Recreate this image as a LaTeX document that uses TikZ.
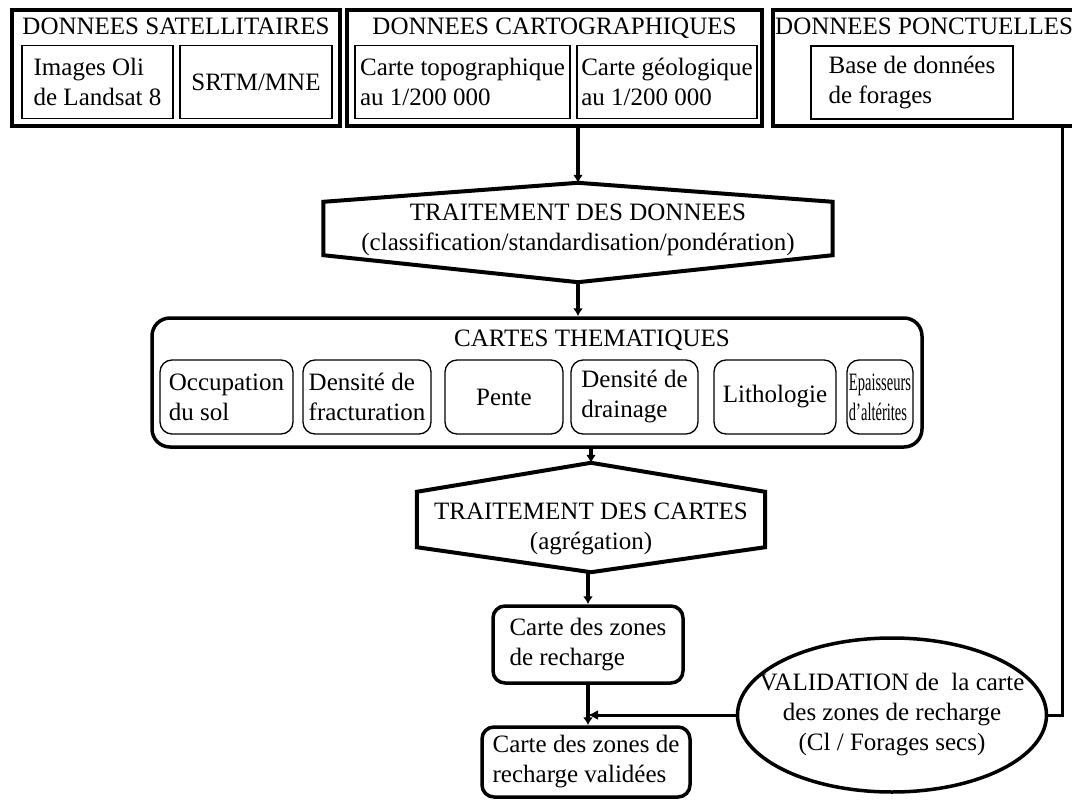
\documentclass[tikz,border=0pt]{standalone}
\usepackage{fontspec}
\setmainfont{Liberation Serif}
\usetikzlibrary{shapes.geometric,arrows.meta}

\begin{document}
\begin{tikzpicture}[x=1pt, y=-1pt,
  every node/.style = {font=\fontsize{25}{30}\selectfont, align=left, inner sep=2pt},
  outbox/.style = {draw, line width=4.5pt},
  inbox/.style = {draw, line width=1.3pt, minimum height=73pt},
  thembox/.style = {draw, line width=1.3pt, rounded corners=12pt, minimum height=74pt},
  resbox/.style = {draw, line width=3.5pt, rounded corners=12pt},
  hexline/.style = {line width=4pt, line join=miter},
  flow/.style = {line width=4pt, -{Latex[length=8pt, width=10pt]}},
  link/.style = {line width=3pt}]
  \useasboundingbox (0,0) rectangle (1072,800);

  \node[outbox, minimum width=328pt, minimum height=116pt] (sat) at (176,68) {};
  \node[anchor=base] (sattl) at (176,35) {DONNEES SATELLITAIRES};
  \node[inbox, minimum width=151pt] (landsat) at (97.5,82) {Images Oli\\de Landsat 8};
  \node[inbox, minimum width=152pt] (srtm) at (256,82) {SRTM/MNE};

  \node[outbox, minimum width=415pt, minimum height=116pt] (cart) at (554.5,68) {};
  \node[anchor=base] (carttl) at (554.5,35) {DONNEES CARTOGRAPHIQUES};
  \node[inbox, minimum width=215pt] (topo) at (462.5,82) {Carte topographique\\au 1/200 000};
  \node[inbox, minimum width=180pt] (geol) at (667,82) {Carte géologique\\au 1/200 000};

  \node[outbox, minimum width=312pt, minimum height=116pt] (ponct) at (929,68) {};
  \node[anchor=base west] (ponctl) at (773,35) {DONNEES PONCTUELLES};
  \node[inbox, minimum width=202pt] (forages) at (912,82.5) {Base de données\\de forages};

  \node[minimum width=509pt, minimum height=99pt] (tdd) at (578,232.5) {};
  \node[align=center] (tddtxt) at ([yshift=3pt]tdd.center)
    {TRAITEMENT DES DONNEES\\(classification/standardisation/pondération)};
  \draw[hexline] ([yshift=-19pt]tdd.north west) -- (tdd.north) -- ([yshift=-19pt]tdd.north east)
    -- ([yshift=27pt]tdd.south east) -- (tdd.south) -- ([yshift=27pt]tdd.south west) -- cycle;

  \node[draw, line width=3.5pt, rounded corners=18pt, minimum width=770pt, minimum height=129pt]
    (cartes) at (537,382.5) {};
  \node (cartestl) at (592,340) {CARTES THEMATIQUES};
  \node[thembox, minimum width=133pt] (occup) at (226.5,397) {Occupation\\du sol};
  \node[thembox, minimum width=128pt] (fract) at (367,397) {Densité de\\fracturation};
  \node[thembox, minimum width=118pt] (pente) at (504,397) {Pente};
  \node[thembox, minimum width=127pt] (drain) at (634.5,397) {Densité de\\drainage};
  \node[thembox, minimum width=122pt] (litho) at (775,397) {Lithologie};
  \node[thembox, minimum width=66pt] (epais) at (880,397)
    {\scalebox{0.58}[1]{Epaisseurs}\\\scalebox{0.58}[1]{d'altérites}};

  \node[minimum width=348pt, minimum height=109pt] (tdc) at (591,517.5) {};
  \node[align=center] (tdctxt) at ([yshift=-11pt]tdc.center)
    {TRAITEMENT DES CARTES\\(agrégation)};
  \draw[hexline] ([yshift=-29pt]tdc.north west) -- (tdc.north) -- ([yshift=-29pt]tdc.north east)
    -- ([yshift=25pt]tdc.south east) -- (tdc.south) -- ([yshift=25pt]tdc.south west) -- cycle;

  \node[resbox, minimum width=190pt, minimum height=77pt] (zr) at (588,644.5)
    {Carte des zones\\de recharge};
  \node[resbox, minimum width=208pt, minimum height=70pt] (zrv) at (586,762)
    {Carte des zones de\\recharge validées};
  \node[draw, ellipse, line width=3.5pt, minimum width=309pt, minimum height=154pt]
    (val) at (892,715) {};
  \node[align=center] (valtxt) at (val.center)
    {VALIDATION de~ la carte\\des zones de recharge\\(Cl / Forages secs)};

  \draw[flow] (tdd.north |- cart.south) -- (tdd.north);
  \draw[flow] (tdd.south) -- (tdd.south |- cartes.north);
  \draw[flow] (tdc.north |- cartes.south) -- (tdc.north);
  \draw[flow] (zr.north |- tdc.south) -- (zr.north);
  \draw[flow] (zr.south) -- (zr.south |- zrv.north);
  \coordinate (drop) at (1062,125);
  \draw[link] (drop) |- (val.east);
  \draw[link, -{Latex[length=10pt, width=10pt]}] (val.west) -- (val.west -| zr.south);
\end{tikzpicture}
\end{document}
